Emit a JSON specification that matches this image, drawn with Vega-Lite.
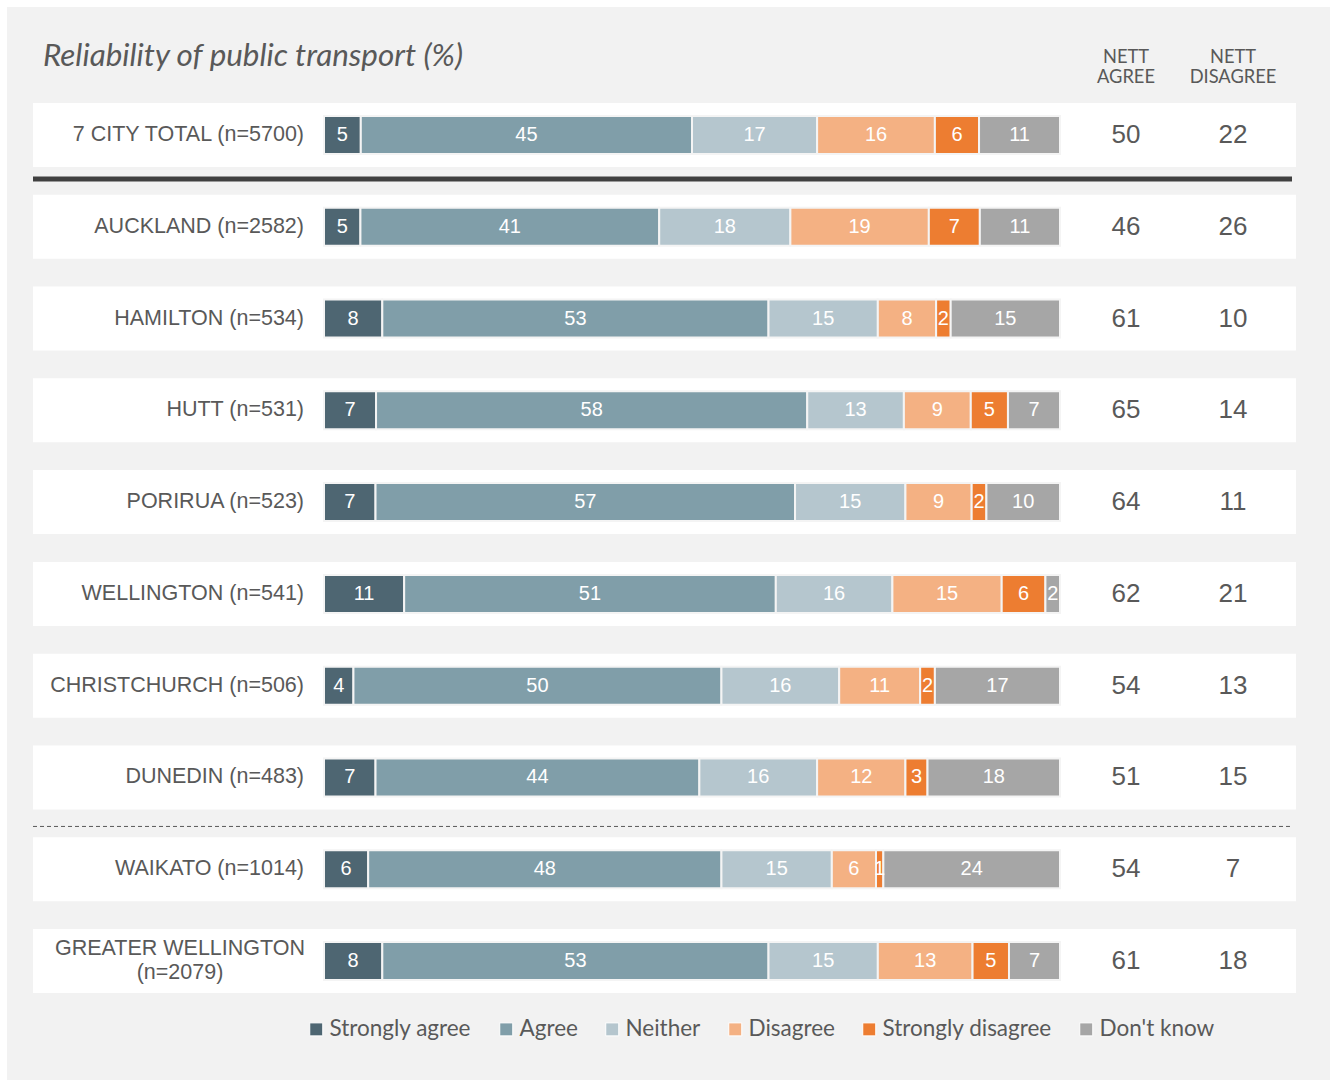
{
  "$schema": "https://vega.github.io/schema/vega-lite/v6.json",
  "width": 1323,
  "height": 1073,
  "autosize": {"type": "none"},
  "padding": {"left": 7, "top": 7, "right": 7, "bottom": 1},
  "background": "white",
  "config": {
    "view": {"stroke": null, "fill": "#f2f2f2"},
    "font": "Liberation Sans"
  },
  "title": {
    "text": "Reliability of public transport (%)",
    "anchor": "start",
    "orient": "top",
    "frame": "group",
    "offset": -65,
    "dx": 36,
    "font": "Lato",
    "fontSize": 31.4,
    "fontStyle": "italic",
    "fontWeight": "normal",
    "color": "#595959"
  },
  "datasets": {
    "bars": [
      {"city": "7 CITY TOTAL (n=5700)", "response": "Strongly agree", "k": 1, "value": 5},
      {"city": "7 CITY TOTAL (n=5700)", "response": "Agree", "k": 2, "value": 45},
      {"city": "7 CITY TOTAL (n=5700)", "response": "Neither", "k": 3, "value": 17},
      {"city": "7 CITY TOTAL (n=5700)", "response": "Disagree", "k": 4, "value": 16},
      {"city": "7 CITY TOTAL (n=5700)", "response": "Strongly disagree", "k": 5, "value": 6},
      {"city": "7 CITY TOTAL (n=5700)", "response": "Don't know", "k": 6, "value": 11},
      {"city": "AUCKLAND (n=2582)", "response": "Strongly agree", "k": 1, "value": 5},
      {"city": "AUCKLAND (n=2582)", "response": "Agree", "k": 2, "value": 41},
      {"city": "AUCKLAND (n=2582)", "response": "Neither", "k": 3, "value": 18},
      {"city": "AUCKLAND (n=2582)", "response": "Disagree", "k": 4, "value": 19},
      {"city": "AUCKLAND (n=2582)", "response": "Strongly disagree", "k": 5, "value": 7},
      {"city": "AUCKLAND (n=2582)", "response": "Don't know", "k": 6, "value": 11},
      {"city": "HAMILTON (n=534)", "response": "Strongly agree", "k": 1, "value": 8},
      {"city": "HAMILTON (n=534)", "response": "Agree", "k": 2, "value": 53},
      {"city": "HAMILTON (n=534)", "response": "Neither", "k": 3, "value": 15},
      {"city": "HAMILTON (n=534)", "response": "Disagree", "k": 4, "value": 8},
      {"city": "HAMILTON (n=534)", "response": "Strongly disagree", "k": 5, "value": 2},
      {"city": "HAMILTON (n=534)", "response": "Don't know", "k": 6, "value": 15},
      {"city": "HUTT (n=531)", "response": "Strongly agree", "k": 1, "value": 7},
      {"city": "HUTT (n=531)", "response": "Agree", "k": 2, "value": 58},
      {"city": "HUTT (n=531)", "response": "Neither", "k": 3, "value": 13},
      {"city": "HUTT (n=531)", "response": "Disagree", "k": 4, "value": 9},
      {"city": "HUTT (n=531)", "response": "Strongly disagree", "k": 5, "value": 5},
      {"city": "HUTT (n=531)", "response": "Don't know", "k": 6, "value": 7},
      {"city": "PORIRUA (n=523)", "response": "Strongly agree", "k": 1, "value": 7},
      {"city": "PORIRUA (n=523)", "response": "Agree", "k": 2, "value": 57},
      {"city": "PORIRUA (n=523)", "response": "Neither", "k": 3, "value": 15},
      {"city": "PORIRUA (n=523)", "response": "Disagree", "k": 4, "value": 9},
      {"city": "PORIRUA (n=523)", "response": "Strongly disagree", "k": 5, "value": 2},
      {"city": "PORIRUA (n=523)", "response": "Don't know", "k": 6, "value": 10},
      {"city": "WELLINGTON (n=541)", "response": "Strongly agree", "k": 1, "value": 11},
      {"city": "WELLINGTON (n=541)", "response": "Agree", "k": 2, "value": 51},
      {"city": "WELLINGTON (n=541)", "response": "Neither", "k": 3, "value": 16},
      {"city": "WELLINGTON (n=541)", "response": "Disagree", "k": 4, "value": 15},
      {"city": "WELLINGTON (n=541)", "response": "Strongly disagree", "k": 5, "value": 6},
      {"city": "WELLINGTON (n=541)", "response": "Don't know", "k": 6, "value": 2},
      {"city": "CHRISTCHURCH (n=506)", "response": "Strongly agree", "k": 1, "value": 4},
      {"city": "CHRISTCHURCH (n=506)", "response": "Agree", "k": 2, "value": 50},
      {"city": "CHRISTCHURCH (n=506)", "response": "Neither", "k": 3, "value": 16},
      {"city": "CHRISTCHURCH (n=506)", "response": "Disagree", "k": 4, "value": 11},
      {"city": "CHRISTCHURCH (n=506)", "response": "Strongly disagree", "k": 5, "value": 2},
      {"city": "CHRISTCHURCH (n=506)", "response": "Don't know", "k": 6, "value": 17},
      {"city": "DUNEDIN (n=483)", "response": "Strongly agree", "k": 1, "value": 7},
      {"city": "DUNEDIN (n=483)", "response": "Agree", "k": 2, "value": 44},
      {"city": "DUNEDIN (n=483)", "response": "Neither", "k": 3, "value": 16},
      {"city": "DUNEDIN (n=483)", "response": "Disagree", "k": 4, "value": 12},
      {"city": "DUNEDIN (n=483)", "response": "Strongly disagree", "k": 5, "value": 3},
      {"city": "DUNEDIN (n=483)", "response": "Don't know", "k": 6, "value": 18},
      {"city": "WAIKATO (n=1014)", "response": "Strongly agree", "k": 1, "value": 6},
      {"city": "WAIKATO (n=1014)", "response": "Agree", "k": 2, "value": 48},
      {"city": "WAIKATO (n=1014)", "response": "Neither", "k": 3, "value": 15},
      {"city": "WAIKATO (n=1014)", "response": "Disagree", "k": 4, "value": 6},
      {"city": "WAIKATO (n=1014)", "response": "Strongly disagree", "k": 5, "value": 1},
      {"city": "WAIKATO (n=1014)", "response": "Don't know", "k": 6, "value": 24},
      {"city": "GREATER WELLINGTON\n(n=2079)", "response": "Strongly agree", "k": 1, "value": 8},
      {"city": "GREATER WELLINGTON\n(n=2079)", "response": "Agree", "k": 2, "value": 53},
      {"city": "GREATER WELLINGTON\n(n=2079)", "response": "Neither", "k": 3, "value": 15},
      {"city": "GREATER WELLINGTON\n(n=2079)", "response": "Disagree", "k": 4, "value": 13},
      {"city": "GREATER WELLINGTON\n(n=2079)", "response": "Strongly disagree", "k": 5, "value": 5},
      {"city": "GREATER WELLINGTON\n(n=2079)", "response": "Don't know", "k": 6, "value": 7}
    ],
    "nett": [
      {"city": "7 CITY TOTAL (n=5700)", "agree": 50, "disagree": 22},
      {"city": "AUCKLAND (n=2582)", "agree": 46, "disagree": 26},
      {"city": "HAMILTON (n=534)", "agree": 61, "disagree": 10},
      {"city": "HUTT (n=531)", "agree": 65, "disagree": 14},
      {"city": "PORIRUA (n=523)", "agree": 64, "disagree": 11},
      {"city": "WELLINGTON (n=541)", "agree": 62, "disagree": 21},
      {"city": "CHRISTCHURCH (n=506)", "agree": 54, "disagree": 13},
      {"city": "DUNEDIN (n=483)", "agree": 51, "disagree": 15},
      {"city": "WAIKATO (n=1014)", "agree": 54, "disagree": 7},
      {"city": "GREATER WELLINGTON\n(n=2079)", "agree": 61, "disagree": 18}
    ]
  },
  "encoding": {
    "y": {
      "field": "city",
      "type": "nominal",
      "axis": null,
      "scale": {
        "domain": ["7 CITY TOTAL (n=5700)", "AUCKLAND (n=2582)", "HAMILTON (n=534)", "HUTT (n=531)", "PORIRUA (n=523)", "WELLINGTON (n=541)", "CHRISTCHURCH (n=506)", "DUNEDIN (n=483)", "WAIKATO (n=1014)", "GREATER WELLINGTON\n(n=2079)"],
        "range": [96, 986],
        "paddingInner": 0.3027,
        "paddingOuter": 0
      }
    }
  },
  "layer": [
    {
      "data": {"name": "nett"},
      "mark": {"type": "rect", "color": "white"},
      "encoding": {
        "x": {"datum": -0.39538, "type": "quantitative", "axis": null, "scale": {"domain": [-0.430707, 1.366848], "nice": false, "zero": false}},
        "x2": {"datum": 1.32065}
      }
    },
    {
      "data": {"name": "bars"},
      "mark": {"type": "bar", "height": 38, "stroke": "#f4f4f4", "strokeWidth": 2},
      "encoding": {
        "x": {
          "field": "value",
          "type": "quantitative",
          "stack": "normalize",
          "scale": {"domain": [-0.430707, 1.366848], "nice": false, "zero": false},
          "axis": null
        },
        "order": {"field": "k", "type": "quantitative"},
        "color": {
          "field": "response",
          "type": "nominal",
          "sort": ["Strongly agree", "Agree", "Neither", "Disagree", "Strongly disagree", "Don't know"],
          "scale": {
            "domain": ["Strongly agree", "Agree", "Neither", "Disagree", "Strongly disagree", "Don't know"],
            "range": ["#4e6672", "#809ea9", "#b5c6ce", "#f4b183", "#ed7d31", "#a6a6a6"]
          },
          "legend": {
            "orient": "none",
            "direction": "horizontal",
            "legendX": 298,
            "legendY": 1011,
            "title": null,
            "padding": 0,
            "symbolType": "square",
            "symbolSize": 169,
            "symbolStrokeColor": "white",
            "symbolStrokeWidth": 1,
            "symbolOpacity": 1,
            "labelFont": "Lato",
            "labelFontSize": 22.5,
            "labelColor": "#595959",
            "labelOffset": 2,
            "columnPadding": 23,
            "labelLimit": 300
          }
        }
      }
    },
    {
      "data": {"name": "bars"},
      "mark": {"type": "text", "color": "white", "fontSize": 20, "baseline": "middle", "align": "center"},
      "encoding": {
        "x": {
          "field": "value",
          "type": "quantitative",
          "stack": "normalize",
          "bandPosition": 0.5,
          "axis": null,
          "scale": {"domain": [-0.430707, 1.366848], "nice": false, "zero": false}
        },
        "order": {"field": "k", "type": "quantitative"},
        "detail": {"field": "response"},
        "text": {"field": "value", "type": "quantitative"}
      }
    },
    {
      "data": {"name": "nett"},
      "transform": [{"filter": "indexof(datum.city, '\\n') < 0"}],
      "mark": {"type": "text", "color": "#595959", "fontSize": 21.5, "align": "right", "baseline": "middle"},
      "encoding": {
        "x": {"datum": -0.02717, "type": "quantitative", "axis": null, "scale": {"domain": [-0.430707, 1.366848], "nice": false, "zero": false}},
        "text": {"field": "city"}
      }
    },
    {
      "data": {"name": "nett"},
      "transform": [{"filter": "indexof(datum.city, '\\n') >= 0"}],
      "mark": {"type": "text", "color": "#595959", "fontSize": 21.5, "align": "center", "baseline": "middle", "lineBreak": "\n", "lineHeight": 24, "yOffset": -12},
      "encoding": {
        "x": {"datum": -0.19565, "type": "quantitative", "axis": null, "scale": {"domain": [-0.430707, 1.366848], "nice": false, "zero": false}},
        "text": {"field": "city"}
      }
    },
    {
      "data": {"name": "nett"},
      "mark": {"type": "text", "color": "#595959", "fontSize": 26, "align": "center", "baseline": "middle"},
      "encoding": {
        "x": {"datum": 1.08967, "type": "quantitative", "axis": null, "scale": {"domain": [-0.430707, 1.366848], "nice": false, "zero": false}},
        "text": {"field": "agree", "type": "quantitative"}
      }
    },
    {
      "data": {"name": "nett"},
      "mark": {"type": "text", "color": "#595959", "fontSize": 26, "align": "center", "baseline": "middle"},
      "encoding": {
        "x": {"datum": 1.23505, "type": "quantitative", "axis": null, "scale": {"domain": [-0.430707, 1.366848], "nice": false, "zero": false}},
        "text": {"field": "disagree", "type": "quantitative"}
      }
    },
    {
      "data": {"values": [{}]},
      "mark": {"type": "text", "text": ["NETT", "AGREE"], "font": "Lato", "fontSize": 18.3, "color": "#595959", "align": "center", "baseline": "middle", "lineHeight": 20, "yOffset": -45},
      "encoding": {
        "x": {"datum": 1.08967, "type": "quantitative", "axis": null, "scale": {"domain": [-0.430707, 1.366848], "nice": false, "zero": false}},
        "y": {"datum": "7 CITY TOTAL (n=5700)", "type": "nominal", "bandPosition": 0}
      }
    },
    {
      "data": {"values": [{}]},
      "mark": {"type": "text", "text": ["NETT", "DISAGREE"], "font": "Lato", "fontSize": 18.3, "color": "#595959", "align": "center", "baseline": "middle", "lineHeight": 20, "yOffset": -45},
      "encoding": {
        "x": {"datum": 1.23505, "type": "quantitative", "axis": null, "scale": {"domain": [-0.430707, 1.366848], "nice": false, "zero": false}},
        "y": {"datum": "7 CITY TOTAL (n=5700)", "type": "nominal", "bandPosition": 0}
      }
    },
    {
      "data": {"values": [{}]},
      "mark": {"type": "rule", "color": "#404040", "strokeWidth": 5, "yOffset": 12},
      "encoding": {
        "x": {"datum": -0.39538, "type": "quantitative", "axis": null, "scale": {"domain": [-0.430707, 1.366848], "nice": false, "zero": false}},
        "x2": {"datum": 1.31522},
        "y": {"datum": "7 CITY TOTAL (n=5700)", "type": "nominal", "bandPosition": 1}
      }
    },
    {
      "data": {"values": [{}]},
      "mark": {"type": "rule", "color": "#595959", "strokeWidth": 1, "strokeDash": [4, 3], "yOffset": 17},
      "encoding": {
        "x": {"datum": -0.39538, "type": "quantitative", "axis": null, "scale": {"domain": [-0.430707, 1.366848], "nice": false, "zero": false}},
        "x2": {"datum": 1.3125},
        "y": {"datum": "DUNEDIN (n=483)", "type": "nominal", "bandPosition": 1}
      }
    }
  ]
}
